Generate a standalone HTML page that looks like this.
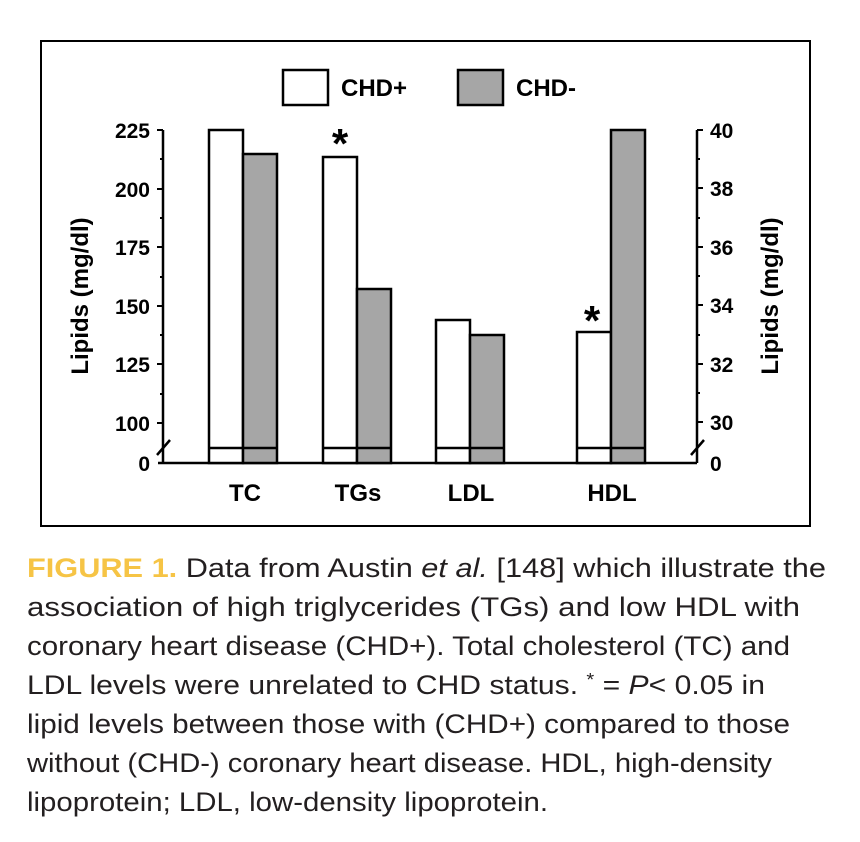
<!DOCTYPE html>
<html><head><meta charset="utf-8"><style>
html,body{margin:0;padding:0;background:#fff;}
svg{display:block;}
.b{font-family:"Liberation Sans",Arial,sans-serif;font-weight:bold;fill:#000;}
.c{font-family:"Liberation Sans",Arial,sans-serif;fill:#231f20;font-size:27px;}
</style></head><body>
<svg width="860" height="842" viewBox="0 0 860 842" xmlns="http://www.w3.org/2000/svg">
<rect x="41" y="41" width="769" height="485" fill="none" stroke="#000" stroke-width="2"/>
<rect x="283" y="70" width="45" height="35" fill="#fff" stroke="#000" stroke-width="2.5"/>
<text class="b" x="341" y="96" font-size="24">CHD+</text>
<rect x="458" y="70" width="45" height="35" fill="#a6a6a6" stroke="#000" stroke-width="2.5"/>
<text class="b" x="516" y="96" font-size="24">CHD-</text>
<g stroke="#000" stroke-width="2.5" fill="none">
<line x1="163" y1="130" x2="163" y2="463"/>
<line x1="158" y1="463" x2="697" y2="463"/>
<line x1="697" y1="130" x2="697" y2="463"/>
<path d="M157 455 L170 440"/>
<path d="M691 455 L704 440"/>
</g>
<g stroke="#000" stroke-width="2">
<line x1="157" y1="130" x2="163" y2="130"/><line x1="157" y1="189" x2="163" y2="189"/><line x1="157" y1="247" x2="163" y2="247"/><line x1="157" y1="306" x2="163" y2="306"/><line x1="157" y1="364" x2="163" y2="364"/><line x1="157" y1="423" x2="163" y2="423"/>
<line x1="160" y1="159" x2="163" y2="159"/><line x1="160" y1="218" x2="163" y2="218"/><line x1="160" y1="277" x2="163" y2="277"/><line x1="160" y1="335" x2="163" y2="335"/><line x1="160" y1="394" x2="163" y2="394"/>
<line x1="697" y1="130" x2="703" y2="130"/><line x1="697" y1="188" x2="703" y2="188"/><line x1="697" y1="247" x2="703" y2="247"/><line x1="697" y1="305" x2="703" y2="305"/><line x1="697" y1="364" x2="703" y2="364"/><line x1="697" y1="422" x2="703" y2="422"/>
<line x1="697" y1="159" x2="700" y2="159"/><line x1="697" y1="218" x2="700" y2="218"/><line x1="697" y1="276" x2="700" y2="276"/><line x1="697" y1="335" x2="700" y2="335"/><line x1="697" y1="393" x2="700" y2="393"/>
</g>
<g class="b" font-size="21" text-anchor="end">
<text x="150" y="138">225</text><text x="150" y="197">200</text><text x="150" y="255">175</text><text x="150" y="314">150</text><text x="150" y="372">125</text><text x="150" y="431">100</text><text x="150" y="471">0</text>
</g>
<g class="b" font-size="21">
<text x="710" y="138">40</text><text x="710" y="196">38</text><text x="710" y="255">36</text><text x="710" y="313">34</text><text x="710" y="372">32</text><text x="710" y="430">30</text><text x="710" y="471">0</text>
</g>
<text class="b" font-size="24" transform="translate(88,296) rotate(-90)" text-anchor="middle">Lipids (mg/dl)</text>
<text class="b" font-size="24" transform="translate(778,296) rotate(-90)" text-anchor="middle">Lipids (mg/dl)</text>
<g stroke="#000" stroke-width="2.5">
<rect x="209" y="130" width="34" height="333" fill="#fff"/>
<rect x="243" y="154" width="34" height="309" fill="#a6a6a6"/>
<rect x="323" y="157" width="34" height="306" fill="#fff"/>
<rect x="357" y="289" width="34" height="174" fill="#a6a6a6"/>
<rect x="436" y="320" width="34" height="143" fill="#fff"/>
<rect x="470" y="335" width="34" height="128" fill="#a6a6a6"/>
<rect x="577" y="332" width="34" height="131" fill="#fff"/>
<rect x="611" y="130" width="34" height="333" fill="#a6a6a6"/>
<line x1="209" y1="448" x2="277" y2="448"/>
<line x1="323" y1="448" x2="391" y2="448"/>
<line x1="436" y1="448" x2="504" y2="448"/>
<line x1="577" y1="448" x2="645" y2="448"/>
</g>
<text class="b" font-size="42" x="340" y="158" text-anchor="middle">*</text>
<text class="b" font-size="42" x="592" y="335" text-anchor="middle">*</text>
<g class="b" font-size="24" text-anchor="middle">
<text x="245" y="501">TC</text><text x="358" y="501">TGs</text><text x="471" y="501">LDL</text><text x="612" y="501">HDL</text>
</g>
<text class="c" x="27" y="577" textLength="799" lengthAdjust="spacingAndGlyphs"><tspan font-weight="900" fill="#f6c445">FIGURE 1.</tspan> Data from Austin <tspan font-style="italic">et al.</tspan> [148] which illustrate the</text>
<text class="c" x="27" y="616" textLength="773" lengthAdjust="spacingAndGlyphs">association of high triglycerides (TGs) and low HDL with</text>
<text class="c" x="27" y="655" textLength="763" lengthAdjust="spacingAndGlyphs">coronary heart disease (CHD+). Total cholesterol (TC) and</text>
<text class="c" x="27" y="694" textLength="738" lengthAdjust="spacingAndGlyphs">LDL levels were unrelated to CHD status. <tspan font-size="18" dy="-8">*</tspan><tspan dy="8"> = </tspan><tspan font-style="italic">P</tspan>&lt; 0.05 in</text>
<text class="c" x="27" y="733" textLength="763" lengthAdjust="spacingAndGlyphs">lipid levels between those with (CHD+) compared to those</text>
<text class="c" x="27" y="772" textLength="745" lengthAdjust="spacingAndGlyphs">without (CHD-) coronary heart disease. HDL, high-density</text>
<text class="c" x="27" y="811" textLength="521" lengthAdjust="spacingAndGlyphs">lipoprotein; LDL, low-density lipoprotein.</text>
</svg>
</body></html>
